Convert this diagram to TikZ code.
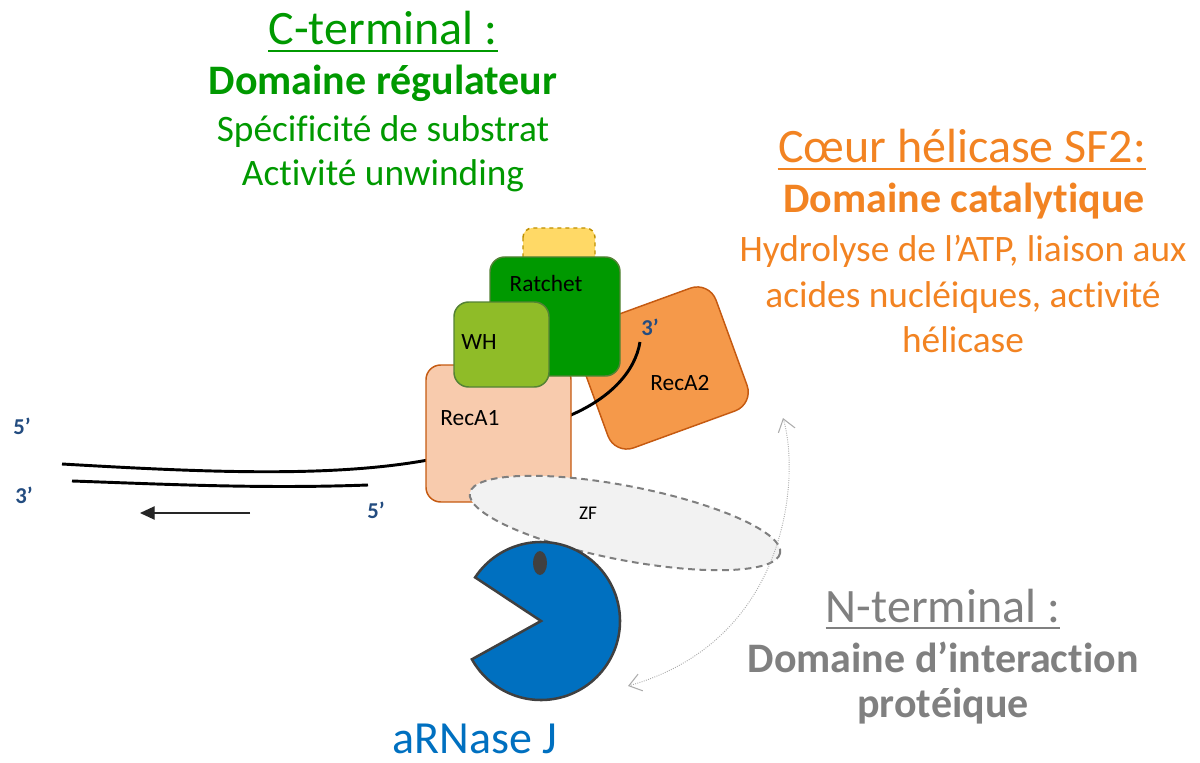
\documentclass[tikz,border=0pt]{standalone}
\usepackage{fontspec}
\setmainfont{Carlito}[Ligatures={TeX,NoCommon,NoContextual}]
\usetikzlibrary{arrows.meta}

\definecolor{cterm}{RGB}{0,153,0}
\definecolor{helic}{RGB}{242,131,34}
\definecolor{nterm}{RGB}{128,128,128}
\definecolor{rnase}{RGB}{0,112,192}
\definecolor{primecol}{RGB}{35,76,128}
\definecolor{ratchetfill}{RGB}{0,153,0}
\definecolor{whfill}{RGB}{143,188,40}
\definecolor{greenline}{RGB}{84,130,53}
\definecolor{recaone}{RGB}{248,203,173}
\definecolor{recatwo}{RGB}{245,153,74}
\definecolor{recaline}{RGB}{197,90,17}
\definecolor{yellowfill}{RGB}{255,217,102}
\definecolor{yellowline}{RGB}{191,144,0}
\definecolor{zffill}{RGB}{242,242,242}
\definecolor{zfline}{RGB}{127,127,127}
\definecolor{pacline}{RGB}{64,64,64}

\begin{document}
\begin{tikzpicture}[x=0.75pt,y=-0.75pt]
		\tikzstyle{title line} = [inner sep=0, anchor=base, font=\fontsize{36}{40}\selectfont]
		\tikzstyle{bold line} = [inner sep=0, anchor=base, font=\fontsize{31.5}{36}\selectfont\bfseries]
		\tikzstyle{plain line} = [inner sep=0, anchor=base, font=\fontsize{28}{32}\selectfont]
		\tikzstyle{domain box} = [line width=1.1pt, rounded corners=11pt]
		\tikzstyle{domain text} = [inner sep=0, font=\fontsize{17.5}{20}\selectfont]
		\tikzstyle{end label} = [inner sep=0, anchor=base, text=primecol, font=\fontsize{17}{20}\selectfont\bfseries]
		\tikzstyle{strand} = [line width=2.2pt]
		\tikzstyle{interaction} = [densely dotted, gray!65, line width=0.7pt, {Straight Barb[length=9pt,width=13pt,line width=0.8pt]}-{Straight Barb[length=9pt,width=13pt,line width=0.8pt]}]

		\useasboundingbox (0,0) rectangle (1200,763);

		% C-terminal
		\node[title line, text=cterm] (cterm title) at (383,45) {C-terminal :};
		\draw[cterm, line width=2pt] ([yshift=-4.5pt]cterm title.base west) -- ([yshift=-4.5pt]cterm title.base east);
		\node[bold line, text=cterm] (cterm bold) at (383,95) {Domaine régulateur};
		\node[plain line, text=cterm] (cterm one) at (383,142) {Spécificité de substrat};
		\node[plain line, text=cterm] (cterm two) at (383,186) {Activité unwinding};

		% coeur helicase
		\node[title line, text=helic] (helic title) at (962,163) {Cœur hélicase SF2:};
		\draw[helic, line width=2pt] ([yshift=-4.5pt]helic title.base west) -- ([yshift=-4.5pt]helic title.base east);
		\node[bold line, text=helic] (helic bold) at (964,213) {Domaine catalytique};
		\node[plain line, text=helic] (helic one) at (963,262) {Hydrolyse de l’ATP, liaison aux};
		\node[plain line, text=helic] (helic two) at (963,307) {acides nucléiques, activité};
		\node[plain line, text=helic] (helic three) at (963,352) {hélicase};

		% N-terminal
		\node[title line, text=nterm] (nterm title) at (943,622) {N-terminal :};
		\draw[nterm, line width=2pt] ([yshift=-4.5pt]nterm title.base west) -- ([yshift=-4.5pt]nterm title.base east);
		\node[bold line, text=nterm] (nterm bold) at (943,672) {Domaine d’interaction};
		\node[bold line, text=nterm] (nterm two) at (943,717) {protéique};

		% domains
		\draw[domain box, rounded corners=7pt, dashed, fill=yellowfill, draw=yellowline] (523,228) rectangle (595,270);
		\node[draw=recaline, fill=recatwo, line width=1.1pt, rounded corners=15pt, minimum width=111pt, minimum height=98pt, rotate=20] (recA2) at (662,368) {};
		\draw[strand] (62,464) .. controls (200,472) and (330,478) .. (428,460) .. controls (480,450) and (540,430) .. (571,415) .. controls (610,398) and (635,372) .. (640,342);
		\draw[strand] (72,481) .. controls (160,484) and (260,489) .. (368,485);
		\draw[domain box, fill=recaone, draw=recaline] (426,365) rectangle (571,502);
		\draw[domain box, fill=ratchetfill, draw=greenline] (490,257) rectangle (620,376);
		\draw[domain box, fill=whfill, draw=greenline] (454,302) rectangle (549,387);

		\node[domain text] (ratchet label) at (546,283) {Ratchet};
		\node[domain text] (wh label) at (479,342) {WH};
		\node[domain text] (recA1 label) at (470,418) {RecA1};
		\node[domain text] (recA2 label) at (680,383) {RecA2};

		% zinc finger
		\draw[fill=zffill, draw=zfline, line width=1.5pt, dash pattern=on 5pt off 3.5pt, rotate around={-11:(625,523)}] (625,523) ellipse (158 and 37);
		\node[domain text, font=\fontsize{14.5}{17}\selectfont] (zf label) at (588,513) {ZF};

		% aRNase J
		\draw[fill=rnase, draw=pacline, line width=1.9pt] (541,621) -- ++(-146.5:79) arc[start angle=-146.5, end angle=151, radius=79] -- cycle;
		\fill[pacline] (540,563) ellipse (7 and 12);
		\node[title line, text=rnase, font=\fontsize{34.5}{40}\selectfont] (rnase label) at (475,753) {aRNase J};

		% strand ends
		\node[end label] (five top) at (22,434) {5’};
		\node[end label] (three left) at (24,503) {3’};
		\node[end label] (five right) at (376,518) {5’};
		\node[end label] (three top) at (650,335) {3’};

		\coordinate (dir start) at (250,513);
		\coordinate (dir end) at (140,513);
		\draw[-{Triangle[length=11pt,width=10pt]}, line width=1pt, black!85] (dir start) -- (dir end);

		\coordinate (zf tip) at (783,418);
		\coordinate (rnase tip) at (628,686);
		\draw[interaction] (zf tip) .. controls (800,475) and (790,640) .. (rnase tip);
\end{tikzpicture}
\end{document}
